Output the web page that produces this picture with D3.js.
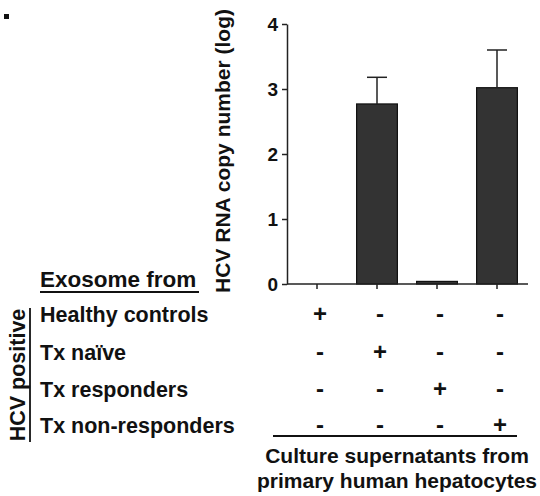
<!DOCTYPE html>
<html>
<head>
<meta charset="utf-8">
<script src="https://cdn.jsdelivr.net/npm/d3@7"></script>
<style>
  html, body { margin: 0; padding: 0; background: #fff; }
  svg { display: block; }
  text { font-family: "Liberation Sans", Arial, sans-serif; font-weight: bold; fill: #111; }
</style>
</head>
<body>
<svg id="chart" width="540" height="496"></svg>
<script>
// ---- data ----
const groups = ["Healthy controls", "Tx naïve", "Tx responders", "Tx non-responders"];
const values = [0, 2.77, 0.04, 3.02];
const errors = [0, 0.41, 0, 0.58];
const yTicks = [0, 1, 2, 3, 4];
const yTitle = "HCV RNA copy number (log)";
const rowHeader = "Exosome from";
const sideLabel = "HCV positive";
const footer = ["Culture supernatants from", "primary human hepatocytes"];

// ---- layout ----
const svg = d3.select("#chart");
const x = d3.scaleBand().domain(groups).range([287, 527]).paddingInner(0.32).paddingOuter(0.16);
const y = d3.scaleLinear().domain([0, 4]).range([284, 24]);

// small square mark
svg.append("rect").attr("x", 4).attr("y", 14).attr("width", 5).attr("height", 5).attr("fill", "#111");

// bars
svg.append("g").selectAll("rect").data(groups).join("rect")
  .attr("x", d => x(d))
  .attr("width", x.bandwidth())
  .attr("y", (d, i) => y(values[i]))
  .attr("height", (d, i) => y(0) - y(values[i]))
  .attr("fill", "#333")
  .attr("stroke", "#111")
  .attr("stroke-width", 1.2)
  .attr("display", (d, i) => values[i] > 0 ? null : "none");

// error bars (upper only)
const eg = svg.append("g").attr("stroke", "#222").attr("stroke-width", 1.5);
groups.forEach((g, i) => {
  if (errors[i] <= 0) return;
  const cx = x(g) + x.bandwidth() / 2;
  eg.append("line").attr("x1", cx).attr("x2", cx).attr("y1", y(values[i])).attr("y2", y(values[i] + errors[i]));
  eg.append("line").attr("x1", cx - 10).attr("x2", cx + 10).attr("y1", y(values[i] + errors[i])).attr("y2", y(values[i] + errors[i]));
});

// y axis
const yAxis = svg.append("g").attr("transform", "translate(287,0)")
  .call(d3.axisLeft(y).tickValues(yTicks).tickFormat(d3.format("d")).tickSize(5).tickPadding(4).tickSizeOuter(0));
yAxis.select(".domain").attr("stroke", "#222").attr("stroke-width", 1.5);
yAxis.selectAll(".tick line").attr("stroke", "#222").attr("stroke-width", 1.5);
yAxis.selectAll(".tick text").style("font-size", "19px").style("font-family", "Liberation Sans, Arial, sans-serif").style("font-weight", "bold").attr("fill", "#111");

// x axis
const xAxis = svg.append("g").attr("transform", "translate(0,284)")
  .call(d3.axisBottom(x).tickSize(5).tickSizeOuter(0).tickFormat(""));
xAxis.select(".domain").attr("stroke", "#222").attr("stroke-width", 1.5).attr("d", "M287,0H528");
xAxis.selectAll(".tick line").attr("stroke", "#222").attr("stroke-width", 1.5);

// y title
svg.append("text")
  .attr("transform", "translate(230,151) rotate(-90)")
  .attr("text-anchor", "middle")
  .style("font-size", "21px")
  .text(yTitle);

// "Exosome from"
svg.append("text").attr("x", 40).attr("y", 287).style("font-size", "22.5px").text(rowHeader);
svg.append("line").attr("x1", 40).attr("x2", 199).attr("y1", 292).attr("y2", 292).attr("stroke", "#111").attr("stroke-width", 1.8);

// row labels + signs
const rowY = [322, 360, 397, 433];
groups.forEach((g, r) => {
  svg.append("text").attr("x", 40).attr("y", rowY[r]).style("font-size", "21.5px").text(g);
  groups.forEach((c, j) => {
    svg.append("text")
      .attr("x", x(c) + x.bandwidth() / 2 + 3)
      .attr("y", rowY[r] - 0.5)
      .attr("text-anchor", "middle")
      .style("font-size", "24px")
      .text(r === j ? "+" : "-");
  });
});

// "HCV positive" rotated with underline
svg.append("text")
  .attr("transform", "translate(25,375) rotate(-90)")
  .attr("text-anchor", "middle")
  .style("font-size", "21.5px")
  .text(sideLabel);
svg.append("line").attr("x1", 30).attr("x2", 30).attr("y1", 308).attr("y2", 442).attr("stroke", "#111").attr("stroke-width", 1.8);

// line under signs
svg.append("line").attr("x1", 273).attr("x2", 517).attr("y1", 436).attr("y2", 436).attr("stroke", "#111").attr("stroke-width", 2);

// footer
footer.forEach((t, i) => {
  svg.append("text").attr("x", 397).attr("y", 463 + i * 25).attr("text-anchor", "middle").style("font-size", "21px").text(t);
});
</script>
</body>
</html>
